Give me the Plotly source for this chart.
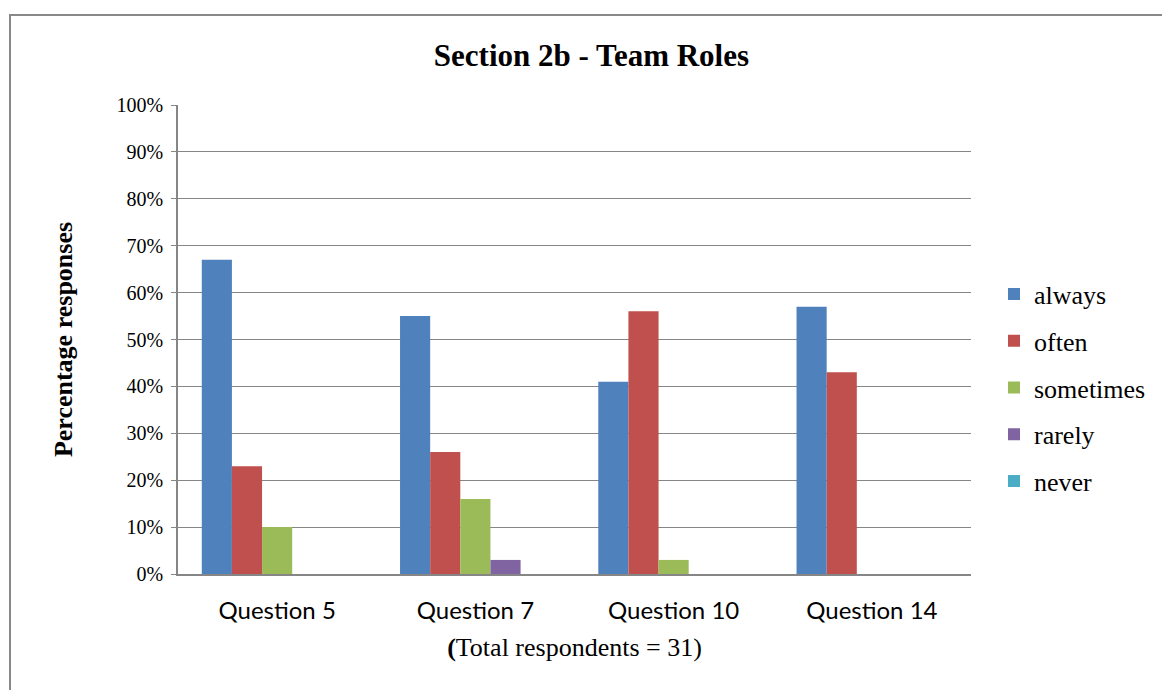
import plotly.graph_objects as go

# Data
questions = ['Question 5', 'Question 7', 'Question 10', 'Question 14']
always = [67, 55, 41, 57]
often = [23, 26, 56, 43]
sometimes = [10, 16, 3, 0]
rarely = [0, 3, 0, 0]
never = [0, 0, 0, 0]

series = [('always', always, '#4F81BD'),
          ('often', often, '#C0504D'),
          ('sometimes', sometimes, '#9BBB59'),
          ('rarely', rarely, '#8064A2'),
          ('never', never, '#4BACC6')]

fig = go.Figure()
for name, vals, col in series:
    fig.add_trace(go.Bar(x=questions, y=vals, name=name, legendgroup=name,
                         marker=dict(color=col, line=dict(width=0))))

serif = 'Liberation Serif, Times New Roman, serif'

fig.update_layout(
    barmode='group', bargap=0.24, bargroupgap=0,
    width=1162, height=690,
    margin=dict(l=178, r=191, t=105, b=116),
    paper_bgcolor='white', plot_bgcolor='white',
    title=dict(text='<b>Section 2b - Team Roles</b>', x=0.509, xanchor='center',
               y=1 - 55 / 690, yanchor='middle',
               font=dict(family=serif, size=31, color='black')),
    legend=dict(xref='container', yref='container',
                x=994 / 1162, y=1 - 388 / 690, xanchor='left', yanchor='middle',
                font=dict(family=serif, size=26, color='black'),
                traceorder='grouped', tracegroupgap=10,
                itemwidth=30),
    xaxis=dict(showline=True, linecolor='#868686', linewidth=1.5,
               ticks='', ticklabelstandoff=14,
               tickfont=dict(family='Lato, Open Sans, sans-serif', size=24, color='black'),
               title=dict(text='<b>(</b>Total respondents = 31)',
                          font=dict(family=serif, size=26, color='black'), standoff=15)),
    yaxis=dict(range=[0, 100], dtick=10, ticksuffix='%',
               showgrid=True, gridcolor='#868686', gridwidth=1,
               showline=True, linecolor='#868686', linewidth=1.5,
               ticks='outside', ticklen=5, tickcolor='#868686', ticklabelstandoff=4,
               tickfont=dict(family=serif, size=20, color='black'),
               title=dict(text='<b>Percentage responses</b>',
                          font=dict(family=serif, size=26, color='black'), standoff=36)),
)

# outer chart border
fig.add_shape(type='rect', xref='paper', yref='paper',
              x0=(10 - 178) / 793, x1=1.4, y0=(574 - 15) / 469, y1=-0.3,
              line=dict(color='#888888', width=2), fillcolor='rgba(0,0,0,0)', layer='below')

fig.write_html('out.html', config={'displayModeBar': False},
               post_script="document.body.style.margin='0';")
